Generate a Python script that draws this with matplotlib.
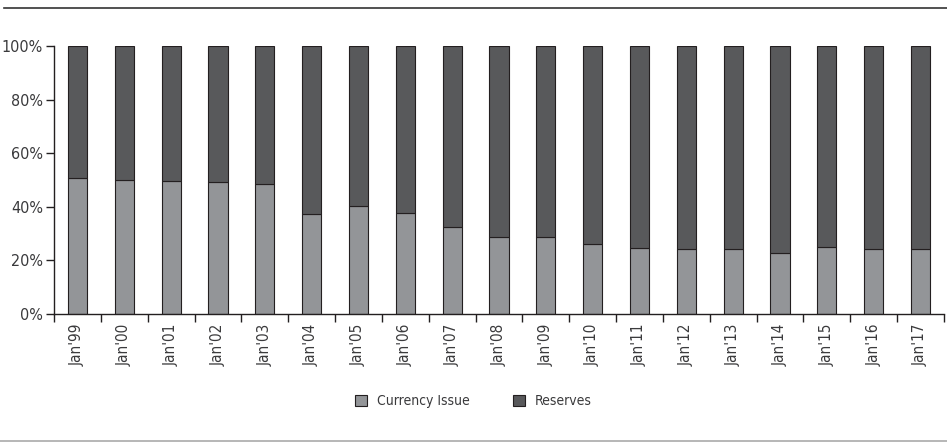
import numpy as np
import matplotlib
matplotlib.use('Agg')
import matplotlib.pyplot as plt
from matplotlib.lines import Line2D

plt.rcParams['font.family'] = ['DejaVu Sans']
plt.rcParams['font.stretch'] = 'condensed'

labels = ["Jan'99", "Jan'00", "Jan'01", "Jan'02", "Jan'03", "Jan'04", "Jan'05",
          "Jan'06", "Jan'07", "Jan'08", "Jan'09", "Jan'10", "Jan'11", "Jan'12",
          "Jan'13", "Jan'14", "Jan'15", "Jan'16", "Jan'17"]
currency = [50.6, 49.9, 49.7, 49.2, 48.6, 37.2, 40.2, 37.6, 32.5, 28.6,
            28.9, 26.2, 24.7, 24.1, 24.1, 22.7, 25.1, 24.1, 24.1]
reserves = [100 - c for c in currency]

light = '#939598'
dark = '#58595b'
edge = '#231f20'
txt = '#3a3a3c'

fig = plt.figure(figsize=(9.47, 4.43), dpi=100)
ax = fig.add_axes([54/947, 129/443, 890/947, 268/443])

x = np.arange(len(labels))
ax.bar(x, currency, width=0.41, color=light, edgecolor=edge, linewidth=0.8,
       label='Currency Issue')
ax.bar(x, reserves, width=0.41, bottom=currency, color=dark, edgecolor=edge,
       linewidth=0.8, label='Reserves')

ax.set_xlim(-0.5, len(labels) - 0.5)
ax.set_ylim(0, 100)
ax.set_yticks([0, 20, 40, 60, 80, 100])
ax.set_yticklabels(['0%', '20%', '40%', '60%', '80%', '100%'])
ax.set_xticks(x)
ax.set_xticklabels(labels, rotation=90)
ax.set_xticks(np.arange(len(labels) + 1) - 0.5, minor=True)

for s in ['top', 'right']:
    ax.spines[s].set_visible(False)
for s in ['left', 'bottom']:
    ax.spines[s].set_color(edge)
    ax.spines[s].set_linewidth(1.0)

ax.tick_params(axis='x', which='major', length=0, pad=7, labelsize=11, labelcolor=txt)
ax.tick_params(axis='x', which='minor', length=6, width=1.0, color=edge)
ax.tick_params(axis='y', length=6, width=1.0, color=edge, pad=2, labelsize=11.5, labelcolor=txt)

handles, names = ax.get_legend_handles_labels()
fig.legend(handles, names, loc='center', bbox_to_anchor=(0.5, 1 - 401/443), ncol=2,
           frameon=False, fontsize=10, handlelength=0.85, handleheight=0.85,
           handletextpad=0.75, columnspacing=3.1, labelcolor=txt)

fig.add_artist(Line2D([0.004, 1.0], [1 - 8/443, 1 - 8/443], color='#333333', linewidth=1.2))
fig.add_artist(Line2D([0.0, 1.0], [2/443, 2/443], color='#aaaaaa', linewidth=1.2))

plt.savefig('out.png', dpi=100)
